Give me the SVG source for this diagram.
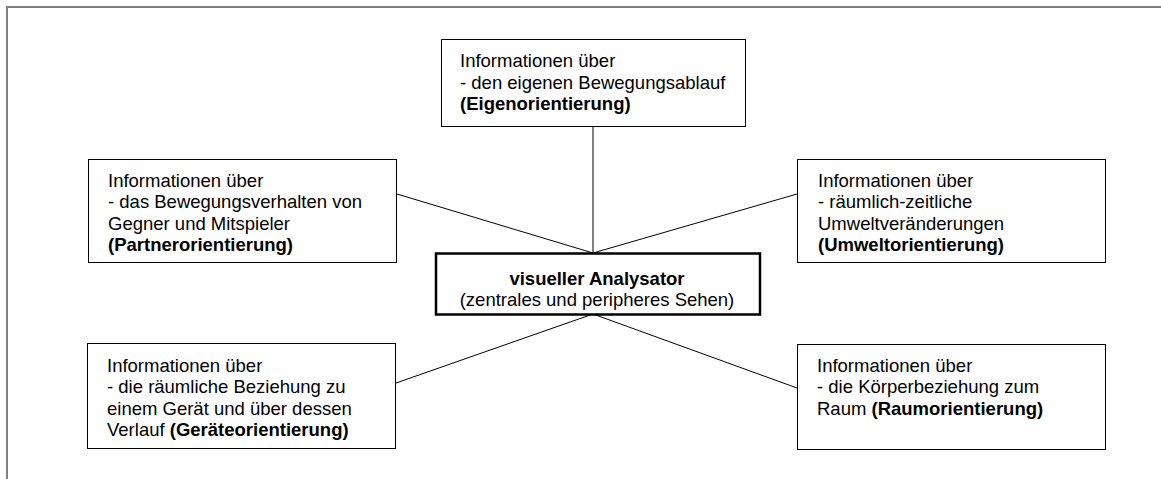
<svg xmlns="http://www.w3.org/2000/svg" width="1161" height="479" viewBox="0 0 1161 479">
<style>
text{font-family:"Liberation Sans",Arial,sans-serif;font-size:18.5px;fill:#000}
.b{font-weight:bold}
.box{fill:#fff;stroke:#000;stroke-width:1}
.cbox{fill:#fff;stroke:#000;stroke-width:2.5}
.con line{stroke:#000;stroke-width:1}
.frame{fill:none;stroke:#808080;stroke-width:2}
</style>
<rect width="1161" height="479" fill="#fff"/>
<path class="frame" d="M7,479 V7 H1161"/>
<g class="con">
<line x1="593" y1="127" x2="593" y2="253"/>
<line x1="397" y1="194" x2="593" y2="253"/>
<line x1="797" y1="194" x2="593" y2="253"/>
<line x1="396" y1="383" x2="593" y2="314"/>
<line x1="797" y1="388" x2="593" y2="314"/>
</g>
<g id="top">
<rect class="box" x="441.5" y="39.5" width="304" height="87"/>
<text x="460" y="67">Informationen über</text>
<text x="460" y="88.5">- den eigenen Bewegungsablauf</text>
<text x="460" y="110" class="b">(Eigenorientierung)</text>
</g>
<g id="partner">
<rect class="box" x="88.5" y="159.5" width="308" height="103"/>
<text x="108" y="187">Informationen über</text>
<text x="108" y="208.3">- das Bewegungsverhalten von</text>
<text x="108" y="229.6">Gegner und Mitspieler</text>
<text x="108" y="251" class="b">(Partnerorientierung)</text>
</g>
<g id="umwelt">
<rect class="box" x="797.5" y="159.5" width="308" height="103"/>
<text x="818" y="187">Informationen über</text>
<text x="818" y="208.3">- räumlich-zeitliche</text>
<text x="818" y="229.6">Umweltveränderungen</text>
<text x="818" y="251" class="b">(Umweltorientierung)</text>
</g>
<g id="center">
<rect class="cbox" x="436" y="253.5" width="324" height="61"/>
<text x="597" y="285" text-anchor="middle" class="b">visueller Analysator</text>
<text x="597" y="306" text-anchor="middle">(zentrales und peripheres Sehen)</text>
</g>
<g id="geraet">
<rect class="box" x="87.5" y="343.5" width="308" height="105"/>
<text x="107" y="372">Informationen über</text>
<text x="107" y="393.3">- die räumliche Beziehung zu</text>
<text x="107" y="414.6">einem Gerät und über dessen</text>
<text x="107" y="436">Verlauf <tspan class="b">(Geräteorientierung)</tspan></text>
</g>
<g id="raum">
<rect class="box" x="797.5" y="344.5" width="308" height="105"/>
<text x="817" y="372">Informationen über</text>
<text x="817" y="393.3">- die Körperbeziehung zum</text>
<text x="817" y="414.6">Raum <tspan class="b">(Raumorientierung)</tspan></text>
</g>
</svg>
